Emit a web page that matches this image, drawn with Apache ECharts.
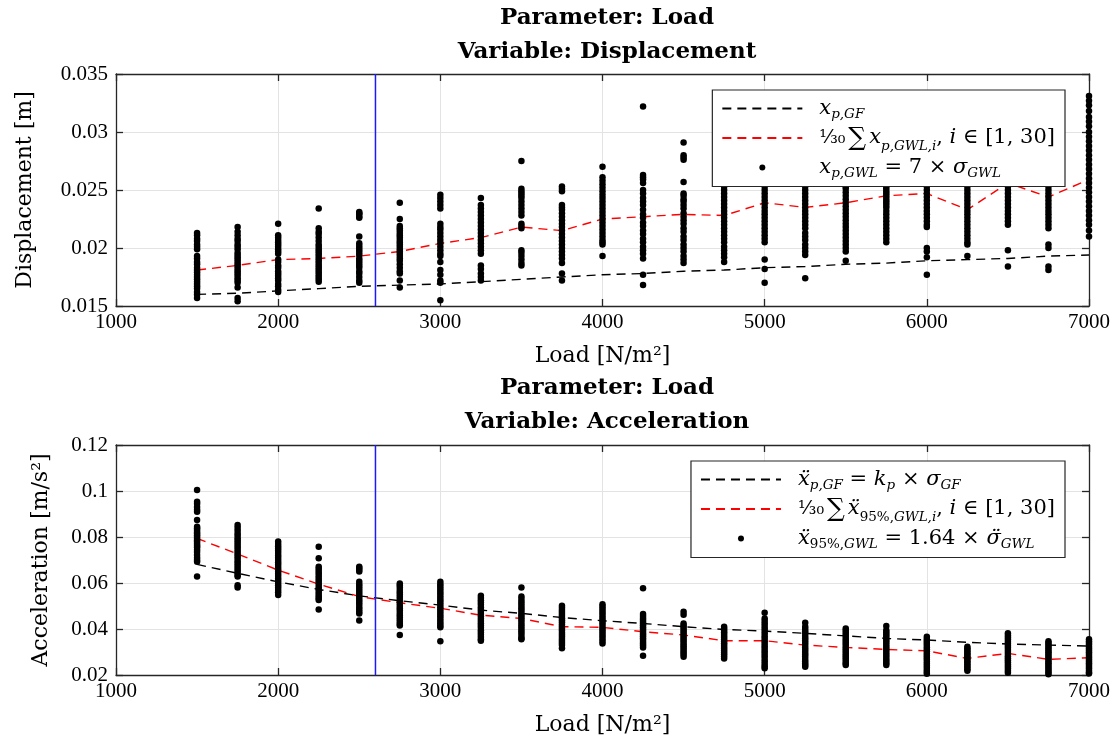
<!DOCTYPE html>
<html><head><meta charset="utf-8">
<script src="https://cdn.jsdelivr.net/npm/echarts@6/dist/echarts.min.js"></script>
<style>html,body{margin:0;padding:0;background:#fff}#c{width:1118px;height:742px}</style>
</head><body><div id="c"></div>
<script>
// ---------------- data ----------------
const loads = [1500,1750,2000,2250,2500,2750,3000,3250,3500,3750,4000,4250,4500,4750,5000,5250,5500,5750,6000,6250,6500,6750,7000];
const xTickValues = [1000,2000,3000,4000,5000,6000,7000];
const dispTickValues = [0.015,0.02,0.025,0.03,0.035];
const accTickValues = [0.02,0.04,0.06,0.08,0.1,0.12];
const refLoad = 2600;

const dispGF = [0.0160,0.0161,0.0163,0.0165,0.0167,0.0168,0.0169,0.0171,0.0173,0.0175,0.0177,0.0178,0.0180,0.0181,0.0183,0.0184,0.0186,0.0187,0.0189,0.0190,0.0191,0.0193,0.0194];
const dispMean = [0.0181,0.0185,0.0190,0.0191,0.0193,0.0197,0.0204,0.0209,0.0218,0.0215,0.0225,0.0227,0.0229,0.0228,0.0239,0.0235,0.0239,0.0245,0.0247,0.0233,0.0256,0.0244,0.0259];
const dispPts = [
  [0.0213,0.0211,0.0208,0.0206,0.0203,0.0201,0.0199,0.0193,0.0191,0.0188,0.0186,0.0183,0.0181,0.0179,0.0177,0.0175,0.0173,0.0171,0.0169,0.0167,0.0165,0.0162,0.0160,0.0157],
  [0.0218,0.0214,0.0211,0.0208,0.0206,0.0203,0.0201,0.0199,0.0196,0.0194,0.0192,0.0190,0.0188,0.0186,0.0184,0.0182,0.0180,0.0178,0.0176,0.0174,0.0172,0.0170,0.0166,0.0157,0.0154],
  [0.0221,0.0211,0.0209,0.0207,0.0205,0.0203,0.0201,0.0199,0.0197,0.0195,0.0190,0.0188,0.0185,0.0183,0.0180,0.0178,0.0176,0.0174,0.0172,0.0169,0.0167,0.0164,0.0162],
  [0.0234,0.0217,0.0214,0.0212,0.0209,0.0206,0.0203,0.0201,0.0199,0.0197,0.0195,0.0193,0.0191,0.0189,0.0187,0.0185,0.0183,0.0181,0.0179,0.0177,0.0175,0.0173,0.0171],
  [0.0231,0.0230,0.0229,0.0227,0.0226,0.0210,0.0204,0.0202,0.0200,0.0198,0.0196,0.0194,0.0191,0.0189,0.0187,0.0185,0.0183,0.0180,0.0178,0.0175,0.0172,0.0170],
  [0.0239,0.0225,0.0219,0.0217,0.0215,0.0213,0.0211,0.0209,0.0207,0.0205,0.0203,0.0201,0.0199,0.0197,0.0195,0.0193,0.0191,0.0189,0.0186,0.0183,0.0180,0.0178,0.0172,0.0166],
  [0.0246,0.0243,0.0240,0.0237,0.0234,0.0221,0.0218,0.0216,0.0213,0.0210,0.0207,0.0204,0.0201,0.0198,0.0195,0.0193,0.0188,0.0181,0.0177,0.0172,0.0170,0.0155],
  [0.0243,0.0237,0.0234,0.0231,0.0228,0.0225,0.0222,0.0219,0.0216,0.0213,0.0210,0.0207,0.0204,0.0201,0.0198,0.0195,0.0185,0.0182,0.0178,0.0175,0.0172],
  [0.0275,0.0251,0.0249,0.0247,0.0245,0.0243,0.0240,0.0237,0.0234,0.0231,0.0228,0.0221,0.0219,0.0217,0.0198,0.0196,0.0193,0.0190,0.0187,0.0185],
  [0.0253,0.0251,0.0249,0.0237,0.0235,0.0233,0.0230,0.0227,0.0224,0.0221,0.0218,0.0215,0.0212,0.0209,0.0206,0.0203,0.0200,0.0197,0.0194,0.0191,0.0187,0.0178,0.0172],
  [0.0270,0.0261,0.0258,0.0255,0.0252,0.0249,0.0246,0.0243,0.0240,0.0237,0.0234,0.0231,0.0228,0.0225,0.0222,0.0219,0.0216,0.0213,0.0210,0.0207,0.0205,0.0203,0.0193],
  [0.0322,0.0263,0.0261,0.0259,0.0256,0.0250,0.0247,0.0243,0.0240,0.0237,0.0233,0.0229,0.0226,0.0222,0.0219,0.0215,0.0212,0.0208,0.0205,0.0201,0.0198,0.0195,0.0191,0.0177,0.0168],
  [0.0291,0.0280,0.0278,0.0276,0.0257,0.0247,0.0245,0.0242,0.0240,0.0237,0.0234,0.0230,0.0227,0.0224,0.0221,0.0217,0.0214,0.0210,0.0207,0.0203,0.0200,0.0197,0.0193,0.0190,0.0187],
  [0.0258,0.0255,0.0253,0.0250,0.0247,0.0244,0.0241,0.0238,0.0235,0.0232,0.0229,0.0226,0.0223,0.0220,0.0217,0.0214,0.0211,0.0208,0.0205,0.0201,0.0198,0.0195,0.0192,0.0188],
  [0.0262,0.0257,0.0253,0.0250,0.0247,0.0244,0.0241,0.0238,0.0235,0.0232,0.0229,0.0226,0.0223,0.0220,0.0217,0.0214,0.0211,0.0208,0.0205,0.0190,0.0182,0.0170],
  [0.0258,0.0253,0.0250,0.0247,0.0244,0.0241,0.0238,0.0235,0.0232,0.0229,0.0226,0.0223,0.0220,0.0217,0.0213,0.0210,0.0207,0.0203,0.0200,0.0197,0.0194,0.0174],
  [0.0260,0.0253,0.0251,0.0248,0.0245,0.0242,0.0239,0.0236,0.0233,0.0230,0.0227,0.0224,0.0221,0.0218,0.0215,0.0212,0.0209,0.0206,0.0203,0.0200,0.0197,0.0189],
  [0.0268,0.0262,0.0257,0.0253,0.0251,0.0249,0.0247,0.0245,0.0243,0.0241,0.0239,0.0237,0.0235,0.0232,0.0229,0.0226,0.0223,0.0220,0.0217,0.0214,0.0211,0.0208,0.0205],
  [0.0265,0.0258,0.0253,0.0250,0.0247,0.0244,0.0241,0.0238,0.0235,0.0232,0.0229,0.0226,0.0223,0.0220,0.0218,0.0200,0.0197,0.0192,0.0177],
  [0.0262,0.0256,0.0253,0.0250,0.0247,0.0244,0.0241,0.0238,0.0235,0.0232,0.0229,0.0226,0.0223,0.0220,0.0217,0.0214,0.0211,0.0208,0.0205,0.0203,0.0193],
  [0.0275,0.0268,0.0262,0.0256,0.0253,0.0250,0.0247,0.0244,0.0241,0.0238,0.0235,0.0232,0.0229,0.0226,0.0223,0.0220,0.0198,0.0184],
  [0.0270,0.0263,0.0258,0.0253,0.0250,0.0247,0.0244,0.0241,0.0238,0.0235,0.0232,0.0229,0.0226,0.0223,0.0220,0.0217,0.0203,0.0200,0.0184,0.0181],
  [0.0331,0.0327,0.0323,0.0318,0.0313,0.0309,0.0305,0.0300,0.0296,0.0292,0.0288,0.0284,0.0280,0.0276,0.0272,0.0268,0.0264,0.0260,0.0256,0.0252,0.0248,0.0244,0.0240,0.0236,0.0232,0.0228,0.0224,0.0220,0.0215,0.0210]
];

const accGF = [0.0681,0.0642,0.0605,0.0572,0.0544,0.0523,0.0504,0.0482,0.0468,0.0450,0.0436,0.0424,0.0410,0.0398,0.0391,0.0381,0.0370,0.0359,0.0352,0.0342,0.0335,0.0330,0.0326];
const accMean = [0.0794,0.0726,0.0656,0.0595,0.0541,0.0514,0.0490,0.0460,0.0446,0.0410,0.0407,0.0388,0.0374,0.0349,0.0349,0.0330,0.0320,0.0311,0.0305,0.0272,0.0294,0.0268,0.0275];
const accPts = [
  [0.1004,0.0953,0.0945,0.0930,0.0918,0.0910,0.0874,0.0845,0.0838,0.0830,0.0822,0.0815,0.0808,0.0800,0.0792,0.0785,0.0778,0.0770,0.0762,0.0755,0.0745,0.0735,0.0722,0.0710,0.0700,0.0692,0.0628],
  [0.0852,0.0840,0.0828,0.0815,0.0805,0.0795,0.0785,0.0775,0.0765,0.0755,0.0745,0.0735,0.0725,0.0715,0.0705,0.0695,0.0685,0.0675,0.0665,0.0655,0.0645,0.0635,0.0628,0.0590,0.0580],
  [0.0780,0.0770,0.0760,0.0750,0.0740,0.0730,0.0720,0.0710,0.0700,0.0690,0.0680,0.0670,0.0660,0.0650,0.0640,0.0630,0.0620,0.0610,0.0600,0.0590,0.0580,0.0570,0.0560,0.0548],
  [0.0758,0.0708,0.0671,0.0662,0.0652,0.0642,0.0632,0.0622,0.0612,0.0602,0.0592,0.0582,0.0572,0.0562,0.0552,0.0542,0.0534,0.0526,0.0485],
  [0.0671,0.0665,0.0658,0.0650,0.0605,0.0595,0.0585,0.0575,0.0565,0.0555,0.0545,0.0535,0.0525,0.0515,0.0505,0.0495,0.0485,0.0475,0.0467,0.0437],
  [0.0598,0.0590,0.0580,0.0570,0.0560,0.0550,0.0540,0.0530,0.0520,0.0510,0.0500,0.0490,0.0480,0.0470,0.0460,0.0450,0.0440,0.0430,0.0422,0.0415,0.0374],
  [0.0605,0.0595,0.0585,0.0575,0.0565,0.0555,0.0545,0.0535,0.0525,0.0515,0.0505,0.0495,0.0485,0.0475,0.0465,0.0455,0.0445,0.0435,0.0425,0.0415,0.0408,0.0347],
  [0.0545,0.0535,0.0525,0.0515,0.0505,0.0495,0.0485,0.0475,0.0465,0.0455,0.0445,0.0435,0.0425,0.0415,0.0405,0.0395,0.0385,0.0375,0.0365,0.0355,0.0349],
  [0.0580,0.0541,0.0530,0.0520,0.0510,0.0500,0.0490,0.0480,0.0470,0.0460,0.0450,0.0440,0.0430,0.0420,0.0410,0.0400,0.0390,0.0380,0.0370,0.0360,0.0355],
  [0.0501,0.0492,0.0483,0.0474,0.0465,0.0456,0.0447,0.0438,0.0429,0.0420,0.0411,0.0402,0.0393,0.0384,0.0375,0.0366,0.0357,0.0348,0.0339,0.0330,0.0316],
  [0.0508,0.0498,0.0488,0.0478,0.0468,0.0458,0.0448,0.0438,0.0428,0.0418,0.0408,0.0398,0.0388,0.0378,0.0368,0.0358,0.0348,0.0337],
  [0.0577,0.0465,0.0457,0.0448,0.0440,0.0432,0.0424,0.0416,0.0408,0.0400,0.0392,0.0384,0.0376,0.0368,0.0360,0.0352,0.0344,0.0336,0.0328,0.0320,0.0284],
  [0.0475,0.0462,0.0424,0.0415,0.0406,0.0397,0.0388,0.0379,0.0370,0.0361,0.0352,0.0343,0.0334,0.0325,0.0316,0.0307,0.0298,0.0289,0.0279],
  [0.0410,0.0402,0.0394,0.0386,0.0378,0.0370,0.0362,0.0354,0.0346,0.0338,0.0330,0.0322,0.0314,0.0306,0.0298,0.0290,0.0281,0.0272],
  [0.0471,0.0446,0.0435,0.0424,0.0413,0.0402,0.0391,0.0380,0.0369,0.0358,0.0347,0.0336,0.0325,0.0314,0.0303,0.0292,0.0281,0.0270,0.0259,0.0248,0.0238,0.0229],
  [0.0427,0.0410,0.0400,0.0390,0.0380,0.0370,0.0360,0.0350,0.0340,0.0330,0.0320,0.0310,0.0300,0.0290,0.0280,0.0270,0.0260,0.0250,0.0243,0.0236],
  [0.0402,0.0393,0.0384,0.0375,0.0366,0.0357,0.0348,0.0339,0.0330,0.0321,0.0312,0.0303,0.0294,0.0285,0.0276,0.0267,0.0258,0.0250,0.0243],
  [0.0413,0.0395,0.0386,0.0377,0.0368,0.0359,0.0350,0.0341,0.0332,0.0323,0.0314,0.0305,0.0296,0.0287,0.0278,0.0269,0.0260,0.0251,0.0243],
  [0.0366,0.0357,0.0348,0.0339,0.0330,0.0321,0.0312,0.0303,0.0294,0.0285,0.0276,0.0267,0.0258,0.0249,0.0240,0.0231,0.0222,0.0213,0.0205,0.0199],
  [0.0323,0.0316,0.0309,0.0302,0.0295,0.0288,0.0281,0.0274,0.0267,0.0260,0.0253,0.0246,0.0239,0.0232,0.0225,0.0218],
  [0.0381,0.0372,0.0363,0.0354,0.0345,0.0336,0.0327,0.0318,0.0309,0.0300,0.0291,0.0282,0.0273,0.0264,0.0255,0.0246,0.0237,0.0228,0.0219,0.0210,0.0199],
  [0.0347,0.0339,0.0331,0.0323,0.0315,0.0307,0.0299,0.0291,0.0283,0.0275,0.0267,0.0259,0.0251,0.0243,0.0235,0.0227,0.0219,0.0211,0.0203,0.0195],
  [0.0355,0.0347,0.0339,0.0331,0.0323,0.0315,0.0307,0.0299,0.0291,0.0283,0.0275,0.0267,0.0259,0.0251,0.0243,0.0235,0.0227,0.0219,0.0211,0.0206]
];

// ---------------- styling ----------------
const FONT = 'Liberation Serif';
const WIDE = 'DejaVu Serif';
const AXIS_COLOR = '#262626';
const GRID_COLOR = '#e3e3e3';
const REF_COLOR = '#1a1aff';

const legendLabels = {
  dispGF:   '{gap| }{i|x}{s|p,GF}',
  dispMean: '{gap| }{fr|¹⁄₃₀}{sig|∑}{i|x}{s|p,GWL,i}{r|, }{i|i}{r| ∈ [1, 30]}',
  dispPts:  '{gap| }{i|x}{s|p,GWL}{r| = 7 × }{i|σ}{s|GWL}',
  accGF:    '{gap| }{i|x\u0308}{s|p,GF}{r| = }{i|k}{s|p}{r| × }{i|σ}{s|GF}',
  accMean:  '{gap| }{fr|¹⁄₃₀}{sig|∑}{i|x\u0308}{ss|95%,}{s|GWL,i}{r|, }{i|i}{r| ∈ [1, 30]}',
  accPts:   '{gap| }{i|x\u0308}{ss|95%,}{s|GWL}{r| = 1.64 × }{i|σ\u0308}{s|GWL}'
};
const legendRich = {
  gap: {width: 12, fontSize: 4},
  i: {fontFamily: WIDE, fontStyle: 'italic', fontSize: 21, lineHeight: 26, color: '#000'},
  r: {fontFamily: WIDE, fontSize: 21, lineHeight: 26, color: '#000'},
  s: {fontFamily: WIDE, fontStyle: 'italic', fontSize: 13.5, lineHeight: 12, verticalAlign: 'bottom', color: '#000'},
  ss: {fontFamily: WIDE, fontSize: 13.5, lineHeight: 12, verticalAlign: 'bottom', color: '#000'},
  fr: {fontFamily: WIDE, fontSize: 19, lineHeight: 30, color: '#000'},
  sig: {fontFamily: WIDE, fontSize: 25, lineHeight: 30, color: '#000', padding: [0, 3, 0, 3]}
};
const titleRich = {
  b: {fontFamily: WIDE, fontWeight: 'bold', fontSize: 23, lineHeight: 34, color: '#000'},
  r: {fontFamily: WIDE, fontSize: 23, lineHeight: 34, color: '#000'}
};
const nameStyle = {fontFamily: WIDE, fontSize: 22, color: '#000'};

function pairs(ys) { return loads.map((x, i) => [x, ys[i]]); }
function cloud(cols) {
  const out = [];
  cols.forEach((col, i) => col.forEach(v => out.push([loads[i], v])));
  return out;
}
const fmtY = v => String(+v.toFixed(4));
const fmtX = v => String(v);

function xAxes(gridIndex) {
  const base = {
    type: 'value', gridIndex, min: xTickValues[0], max: xTickValues[xTickValues.length - 1],
    interval: xTickValues[1] - xTickValues[0],
    axisLine: {show: true, onZero: false, lineStyle: {color: AXIS_COLOR, width: 1.3}},
    axisTick: {show: true, inside: true, length: 7, lineStyle: {color: AXIS_COLOR, width: 1.3}},
    splitLine: {show: false}
  };
  return [
    Object.assign({}, base, {
      position: 'bottom',
      splitLine: {show: true, lineStyle: {color: GRID_COLOR, width: 1}},
      axisLabel: {fontFamily: FONT, fontSize: 21, color: '#000', margin: 6, formatter: fmtX},
      name: 'Load [N/m²]', nameLocation: 'middle', nameGap: 39,
      nameTextStyle: nameStyle
    }),
    Object.assign({}, base, {position: 'top', axisLabel: {show: false}})
  ];
}
function yAxes(gridIndex, ticks, name, nameGap) {
  const base = {
    type: 'value', gridIndex, min: ticks[0], max: ticks[ticks.length - 1],
    interval: ticks[1] - ticks[0],
    axisLine: {show: true, onZero: false, lineStyle: {color: AXIS_COLOR, width: 1.3}},
    axisTick: {show: true, inside: true, length: 7, lineStyle: {color: AXIS_COLOR, width: 1.3}},
    splitLine: {show: false}
  };
  return [
    Object.assign({}, base, {
      position: 'left',
      splitLine: {show: true, lineStyle: {color: GRID_COLOR, width: 1}},
      axisLabel: {fontFamily: FONT, fontSize: 21, color: '#000', margin: 8, formatter: fmtY},
      name, nameLocation: 'middle', nameGap,
      nameTextStyle: nameStyle
    }),
    Object.assign({}, base, {position: 'right', axisLabel: {show: false}})
  ];
}

function lineSeries(name, ys, color, xi, yi) {
  return {
    name, type: 'line', data: pairs(ys), xAxisIndex: xi, yAxisIndex: yi,
    symbol: 'none', lineStyle: {color, width: 1.4, type: [9, 6]}, itemStyle: {color},
    z: 3, silent: true
  };
}
// vertical reference line at refLoad, spanning the y axis range
function refSeries(ticks, xi, yi) {
  return {
    name: 'ref' + xi, type: 'line', xAxisIndex: xi, yAxisIndex: yi,
    data: [[refLoad, ticks[0]], [refLoad, ticks[ticks.length - 1]]],
    symbol: 'none', lineStyle: {color: REF_COLOR, width: 1.5, type: 'solid', opacity: 1},
    itemStyle: {color: REF_COLOR}, z: 5, silent: true
  };
}
function scatterSeries(name, cols, xi, yi) {
  return {
    name, type: 'scatter', data: cloud(cols), xAxisIndex: xi, yAxisIndex: yi,
    symbol: 'circle', symbolSize: 6.5, itemStyle: {color: '#000', opacity: 1}, z: 4, silent: true
  };
}

const legendCommon = {
  orient: 'vertical', right: 53, itemWidth: 80, itemHeight: 6, itemGap: 4,
  backgroundColor: '#fff', borderColor: AXIS_COLOR, borderWidth: 1.2, borderRadius: 0,
  padding: [8, 10, 6, 9], selectedMode: false, z: 10,
  formatter: n => legendLabels[n],
  textStyle: {fontFamily: WIDE, fontSize: 21, color: '#000', rich: legendRich}
};
const hideSym = {opacity: 0, borderWidth: 0};

const option = {
  animation: false,
  backgroundColor: '#fff',
  title: [
    {text: '{b|Parameter:}{r| Load}\n{b|Variable:}{r| Displacement}', left: 602, top: -4, textAlign: 'center',
     textStyle: {rich: titleRich, lineHeight: 34}},
    {text: '{b|Parameter:}{r| Load}\n{b|Variable:}{r| Acceleration}', left: 602, top: 366, textAlign: 'center',
     textStyle: {rich: titleRich, lineHeight: 34}}
  ],
  grid: [
    {left: 116, top: 74, width: 973, height: 232, outerBoundsMode: 'none', containLabel: false},
    {left: 116, top: 445, width: 973, height: 230, outerBoundsMode: 'none', containLabel: false}
  ],
  xAxis: [...xAxes(0), ...xAxes(1)],
  yAxis: [...yAxes(0, dispTickValues, 'Displacement [m]', 80), ...yAxes(1, accTickValues, 'Acceleration [m/s²]', 64)],
  legend: [
    Object.assign({}, legendCommon, {top: 90, data: [
      {name: 'dispGF', itemStyle: hideSym}, {name: 'dispMean', itemStyle: hideSym}, {name: 'dispPts', icon: 'circle'}]}),
    Object.assign({}, legendCommon, {top: 461, data: [
      {name: 'accGF', itemStyle: hideSym}, {name: 'accMean', itemStyle: hideSym}, {name: 'accPts', icon: 'circle'}]})
  ],
  series: [
    lineSeries('dispGF', dispGF, '#000', 0, 0),
    lineSeries('dispMean', dispMean, '#ff0000', 0, 0),
    scatterSeries('dispPts', dispPts, 0, 0),
    refSeries(dispTickValues, 0, 0),
    lineSeries('accGF', accGF, '#000', 2, 2),
    lineSeries('accMean', accMean, '#ff0000', 2, 2),
    scatterSeries('accPts', accPts, 2, 2),
    refSeries(accTickValues, 2, 2)
  ]
};

const chart = echarts.init(document.getElementById('c'), null, {renderer: 'canvas'});
chart.setOption(option);
</script>
</body></html>
